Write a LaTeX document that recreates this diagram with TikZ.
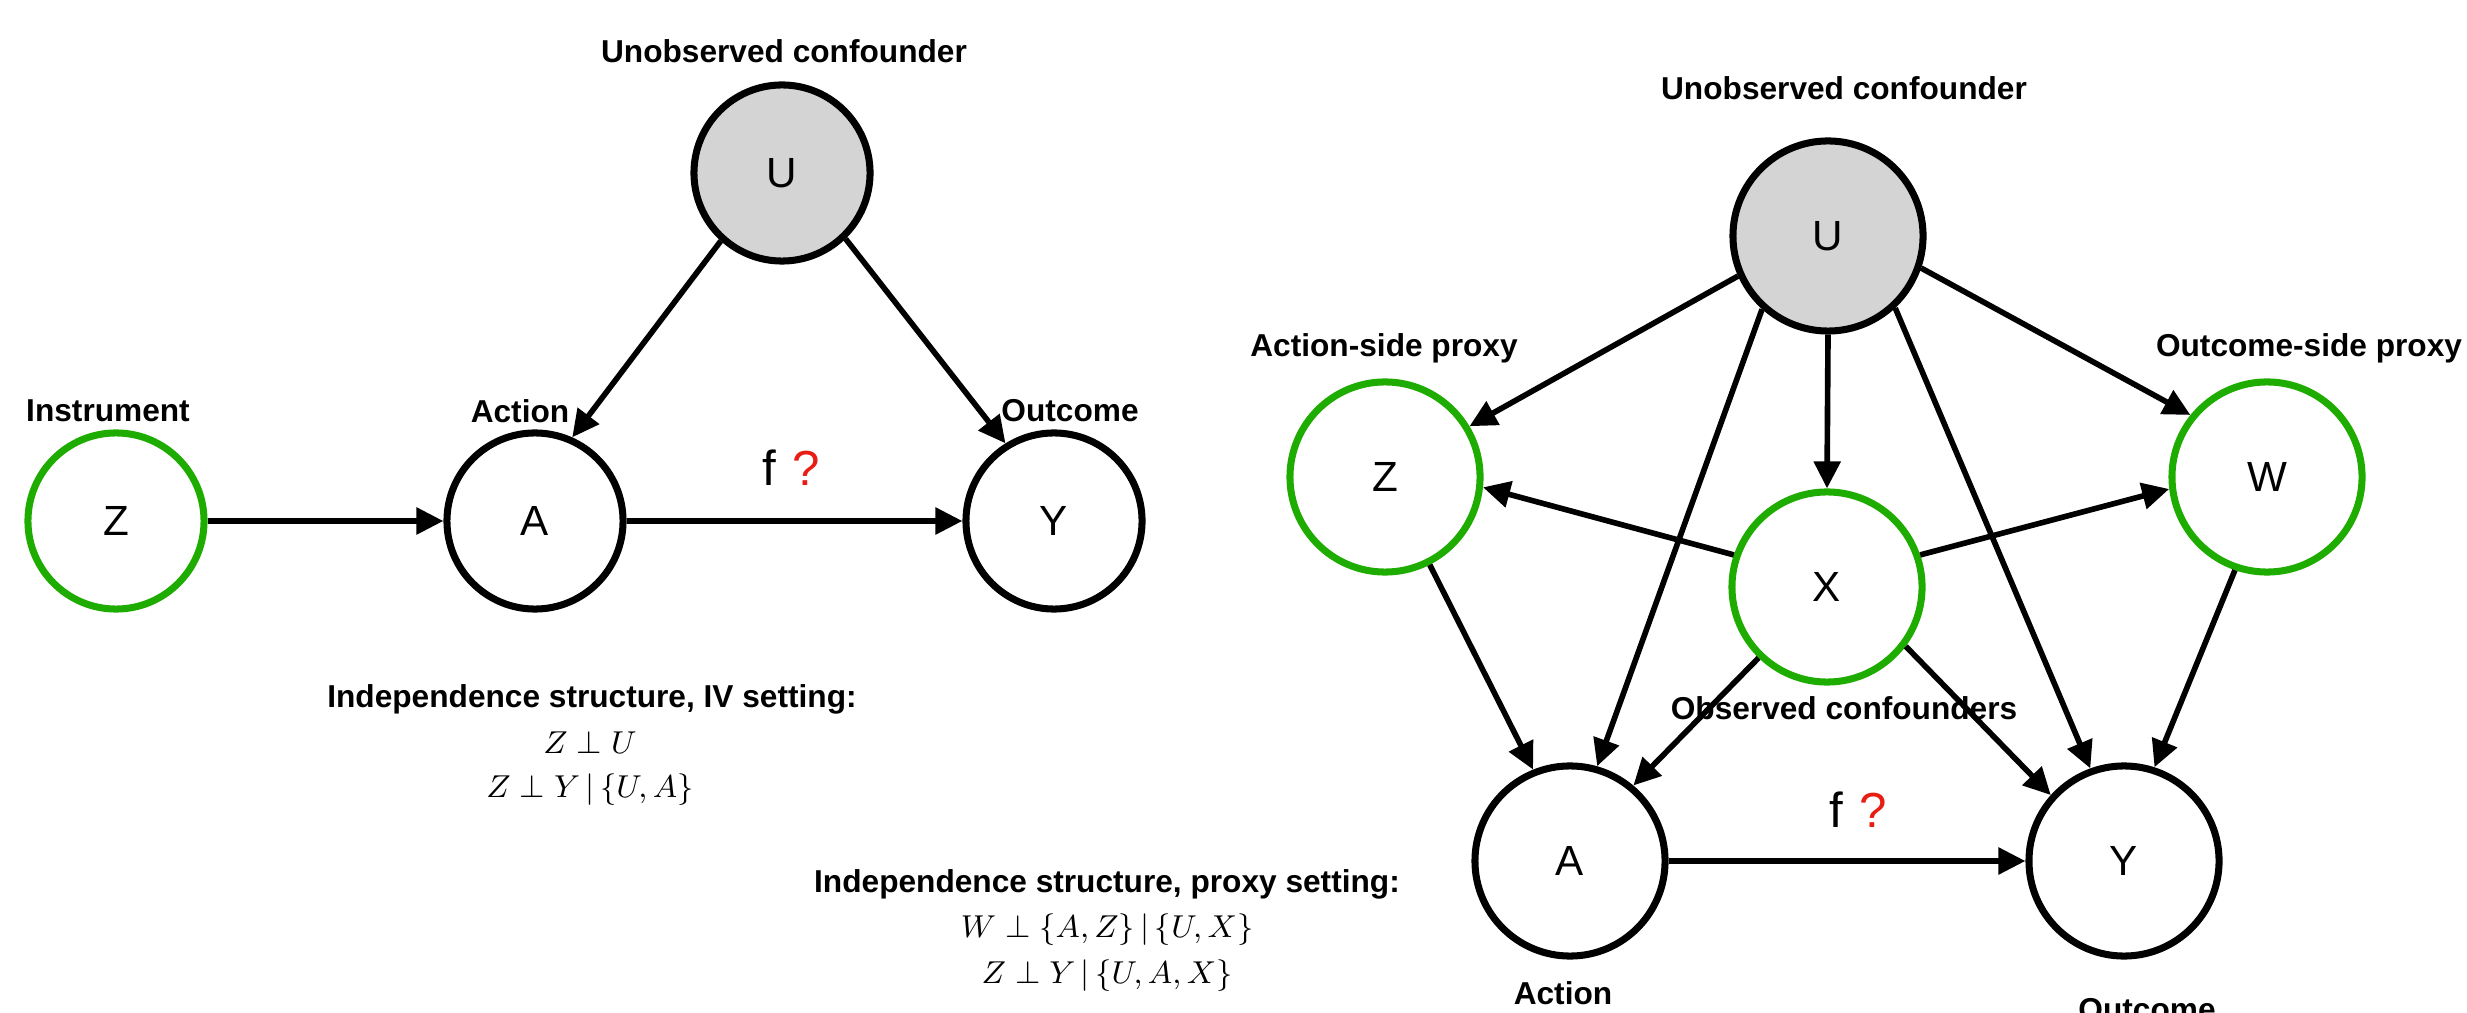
\documentclass[tikz,border=0pt]{standalone}
\usepackage{fontspec}
\setmainfont{Liberation Sans}
\usetikzlibrary{arrows.meta}
\definecolor{qgreen}{RGB}{30,172,0}
\definecolor{qgray}{RGB}{212,212,212}
\definecolor{qred}{RGB}{232,30,20}
\begin{document}
\begin{tikzpicture}[x=0.01cm,y=-0.01cm,
  vnode/.style={circle,draw=black,line width=2pt,inner sep=0pt,font=\fontsize{12}{14}\selectfont},
  lsize/.style={minimum size=1.76cm},
  rsize/.style={minimum size=1.9cm},
  obs/.style={draw=qgreen},
  hid/.style={fill=qgray},
  lbl/.style={font=\fontsize{9}{11}\selectfont\bfseries,inner sep=0pt},
  mth/.style={font=\fontsize{9.5}{11}\selectfont,inner sep=0pt},
  fq/.style={font=\fontsize{14}{16}\selectfont,inner sep=0pt},
  arr/.style={line width=1.6pt,-{Triangle[length=0.27cm,width=0.26cm]}}]
\useasboundingbox (0,0) rectangle (2467,1013);
% ---------- left diagram ----------
\node[vnode,lsize,hid] (lU) at (782,173) {U};
\node[vnode,lsize,obs] (lZ) at (116,521) {Z};
\node[vnode,lsize] (lA) at (535,521) {A};
\node[vnode,lsize] (lY) at (1054,521) {Y};
\node[lbl] (lUl) at (784,51) {Unobserved confounder};
\node[lbl] (lZl) at (108,411) {Instrument};
\node[lbl] (lAl) at (520,411) {Action};
\node[lbl] (lYl) at (1070,411) {Outcome};
\node[fq] (lf) at (791,468) {f\,\,{\color{qred}?}};
\draw[arr] (lZ.east) -- (lA.west);
\draw[arr] (lA.east) -- (lY.west);
\draw[arr] (lU.228) -- (lA.66);
\draw[arr] (lU.314) -- (lY.122);
\node[lbl] (ivt) at (592,699) {Independence structure, IV setting:};
\node[mth] (iv1) at (590,743) {$Z \perp U$};
\node[mth] (iv2) at (590,790) {$Z \perp Y \,|\, \{U, A\}$};
% ---------- right diagram ----------
\node[vnode,rsize,hid] (rU) at (1828,236) {U};
\node[vnode,rsize,obs] (rZ) at (1385,477) {Z};
\node[vnode,rsize,obs] (rW) at (2267,477) {W};
\node[vnode,rsize,obs] (rX) at (1827,587) {X};
\node[vnode,rsize] (rA) at (1570,861) {A};
\node[vnode,rsize] (rY) at (2124,861) {Y};
\node[lbl] (rUl) at (1844,88) {Unobserved confounder};
\node[lbl] (rZl) at (1384,348) {Action-side proxy};
\node[lbl] (rWl) at (2309,348) {Outcome-side proxy};
\node[lbl] (rXl) at (1844,708) {Observed confounders};
\node[lbl] (rAl) at (1563,993) {Action};
\node[lbl] (rYl) at (2147,1010) {Outcome};
\node[fq] (rf) at (1858,810) {f\,\,{\color{qred}?}};
\draw[arr] (rU.204) -- (rZ.31);
\draw[arr] (rU.228) -- (rA.74);
\draw[arr] (rU.south) -- (rX.north);
\draw[arr] (rU.313) -- (rY.110);
\draw[arr] (rU.341) -- (rW.141);
\draw[arr] (rX.161) -- (rZ.354);
\draw[arr] (rX.19) -- (rW.187);
\draw[arr] (rX.226) -- (rA.50);
\draw[arr] (rX.323) -- (rY.138);
\draw[arr] (rZ.297) -- (rA.112);
\draw[arr] (rW.251) -- (rY.72);
\draw[arr] (rA.east) -- (rY.west);
\node[lbl] (pxt) at (1107,884) {Independence structure, proxy setting:};
\node[mth] (px1) at (1107,930) {$W \perp \{A, Z\} \,|\, \{U, X\}$};
\node[mth] (px2) at (1107,976) {$Z \perp Y \,|\, \{U, A, X\}$};
\end{tikzpicture}
\end{document}
